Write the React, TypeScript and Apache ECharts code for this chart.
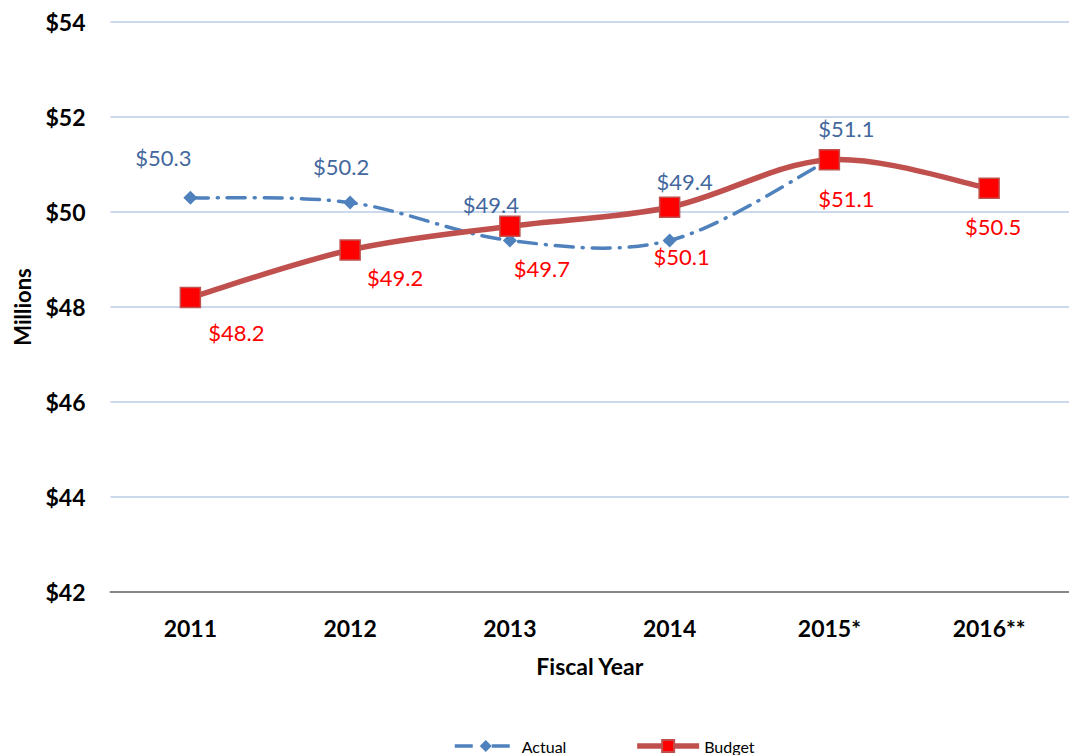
import React, { useEffect, useRef } from "react";
import * as echarts from "echarts";

const categories = ["2011", "2012", "2013", "2014", "2015*", "2016**"];
const actualValues: (number | null)[] = [50.3, 50.2, 49.4, 49.4, 51.1, null];
const budgetValues: number[] = [48.2, 49.2, 49.7, 50.1, 51.1, 50.5];
const yTicks = { min: 42, max: 54, interval: 2 };

// label layout (offsets from point centre, px)
const actualLabelOffsets = [[-27, -40], [-9, -36], [-19, -36], [15, -59], [17, -31], [0, 0]];
const budgetLabelOffsets = [[46, 35], [45, 27], [32, 42], [12, 49], [17, 39], [4, 38]];

const FONT = "Lato, 'Open Sans', sans-serif";
const BLUE = "#4F81BD";
const RED_LINE = "#C0504D";
const ACTUAL_DASH = [18, 9, 1, 9];

// Excel-like smoothed curve (Catmull-Rom -> cubic Bezier) through pixel points
function smoothPath(pts: number[][]): string {
  if (pts.length === 0) return "";
  let d = `M${pts[0][0]},${pts[0][1]}`;
  for (let i = 0; i < pts.length - 1; i++) {
    const p0 = pts[i - 1] || pts[i];
    const p1 = pts[i];
    const p2 = pts[i + 1];
    const p3 = pts[i + 2] || pts[i + 1];
    const c1x = p1[0] + (p2[0] - p0[0]) / 6;
    const c1y = p1[1] + (p2[1] - p0[1]) / 6;
    const c2x = p2[0] - (p3[0] - p1[0]) / 6;
    const c2y = p2[1] - (p3[1] - p1[1]) / 6;
    d += ` C${c1x},${c1y} ${c2x},${c2y} ${p2[0]},${p2[1]}`;
  }
  return d;
}

function curveSeries(name: string, values: (number | null)[], stroke: string, width: number, dash: any, z: number) {
  return {
    name,
    type: "custom",
    coordinateSystem: "cartesian2d",
    silent: true,
    z,
    data: [[0, values[0]]],
    renderItem: (_params: any, api: any) => {
      const pts: number[][] = [];
      values.forEach((v, i) => {
        if (v !== null) pts.push(api.coord([i, v]));
      });
      return {
        type: "path",
        shape: { pathData: smoothPath(pts) },
        style: { fill: "none", stroke, lineWidth: width, lineDash: dash, lineCap: "round" },
      };
    },
  };
}

export default function App() {
  const ref = useRef<HTMLDivElement>(null);
  useEffect(() => {
    if (!ref.current) return;
    const chart = echarts.init(ref.current, null, { renderer: "svg" });
    const fmt = (p: any) => "$" + Number(p.value).toFixed(1);
    chart.setOption({
      animation: false,
      backgroundColor: "#ffffff",
      textStyle: { fontFamily: FONT },
      grid: { left: 110.5, top: 22, width: 966, height: 570, containLabel: false },
      legend: {
        data: [
          { name: "Actual", lineStyle: { color: BLUE, width: 3.5, type: ACTUAL_DASH, opacity: 1 } },
          { name: "Budget", lineStyle: { color: RED_LINE, width: 5.5, type: "solid", opacity: 1 } },
        ],
        left: 448,
        top: 733,
        itemWidth: 62,
        itemHeight: 15,
        itemGap: 68,
        textStyle: { fontFamily: FONT, fontSize: 16, color: "#000" },
      },
      xAxis: {
        type: "category",
        data: categories,
        boundaryGap: true,
        axisLine: { lineStyle: { color: "#868686", width: 2 } },
        axisTick: { show: false },
        axisLabel: { fontFamily: FONT, fontSize: 23, fontWeight: "bold", color: "#000", margin: 24 },
        name: "Fiscal Year",
        nameLocation: "middle",
        nameGap: 62,
        nameTextStyle: { fontFamily: FONT, fontSize: 23, fontWeight: "bold", color: "#000" },
      },
      yAxis: {
        type: "value",
        min: yTicks.min,
        max: yTicks.max,
        interval: yTicks.interval,
        axisLine: { show: false },
        axisTick: { show: false },
        splitLine: { lineStyle: { color: "#B9CDE5", width: 1.5 } },
        axisLabel: {
          fontFamily: FONT,
          fontSize: 23,
          fontWeight: "bold",
          color: "#000",
          margin: 25,
          formatter: (v: number) => "$" + v,
        },
        name: "Millions",
        nameLocation: "middle",
        nameGap: 77,
        nameRotate: 90,
        nameTextStyle: { fontFamily: FONT, fontSize: 22, fontWeight: "bold", color: "#000" },
      },
      series: [
        curveSeries("ActualCurve", actualValues, BLUE, 3.5, ACTUAL_DASH, 2),
        {
          name: "Actual",
          type: "line",
          symbol: "diamond",
          symbolSize: 14,
          itemStyle: { color: BLUE },
          lineStyle: { color: BLUE, width: 3.5, type: ACTUAL_DASH, opacity: 0 },
          label: {
            show: true,
            position: "inside",
            formatter: fmt,
            fontFamily: FONT,
            fontSize: 22,
            color: "#44689E",
          },
          data: actualValues.map((v, i) =>
            v === null ? null : { value: v, label: { offset: actualLabelOffsets[i] } }
          ),
          z: 3,
        },
        curveSeries("BudgetCurve", budgetValues, RED_LINE, 5.5, null, 4),
        {
          name: "Budget",
          type: "line",
          symbol: "rect",
          symbolSize: 20,
          itemStyle: { color: "#FF0000", borderColor: RED_LINE, borderWidth: 1.5 },
          lineStyle: { color: RED_LINE, width: 5.5, opacity: 0 },
          label: {
            show: true,
            position: "inside",
            formatter: fmt,
            fontFamily: FONT,
            fontSize: 22,
            color: "#FF0000",
          },
          data: budgetValues.map((v, i) => ({ value: v, label: { offset: budgetLabelOffsets[i] } })),
          z: 5,
        },
      ],
    });
    return () => chart.dispose();
  }, []);
  return (
    <div
      ref={ref}
      style={{ position: "absolute", left: 0, top: 0, width: 1069, height: 755, background: "#fff" }}
    />
  );
}
